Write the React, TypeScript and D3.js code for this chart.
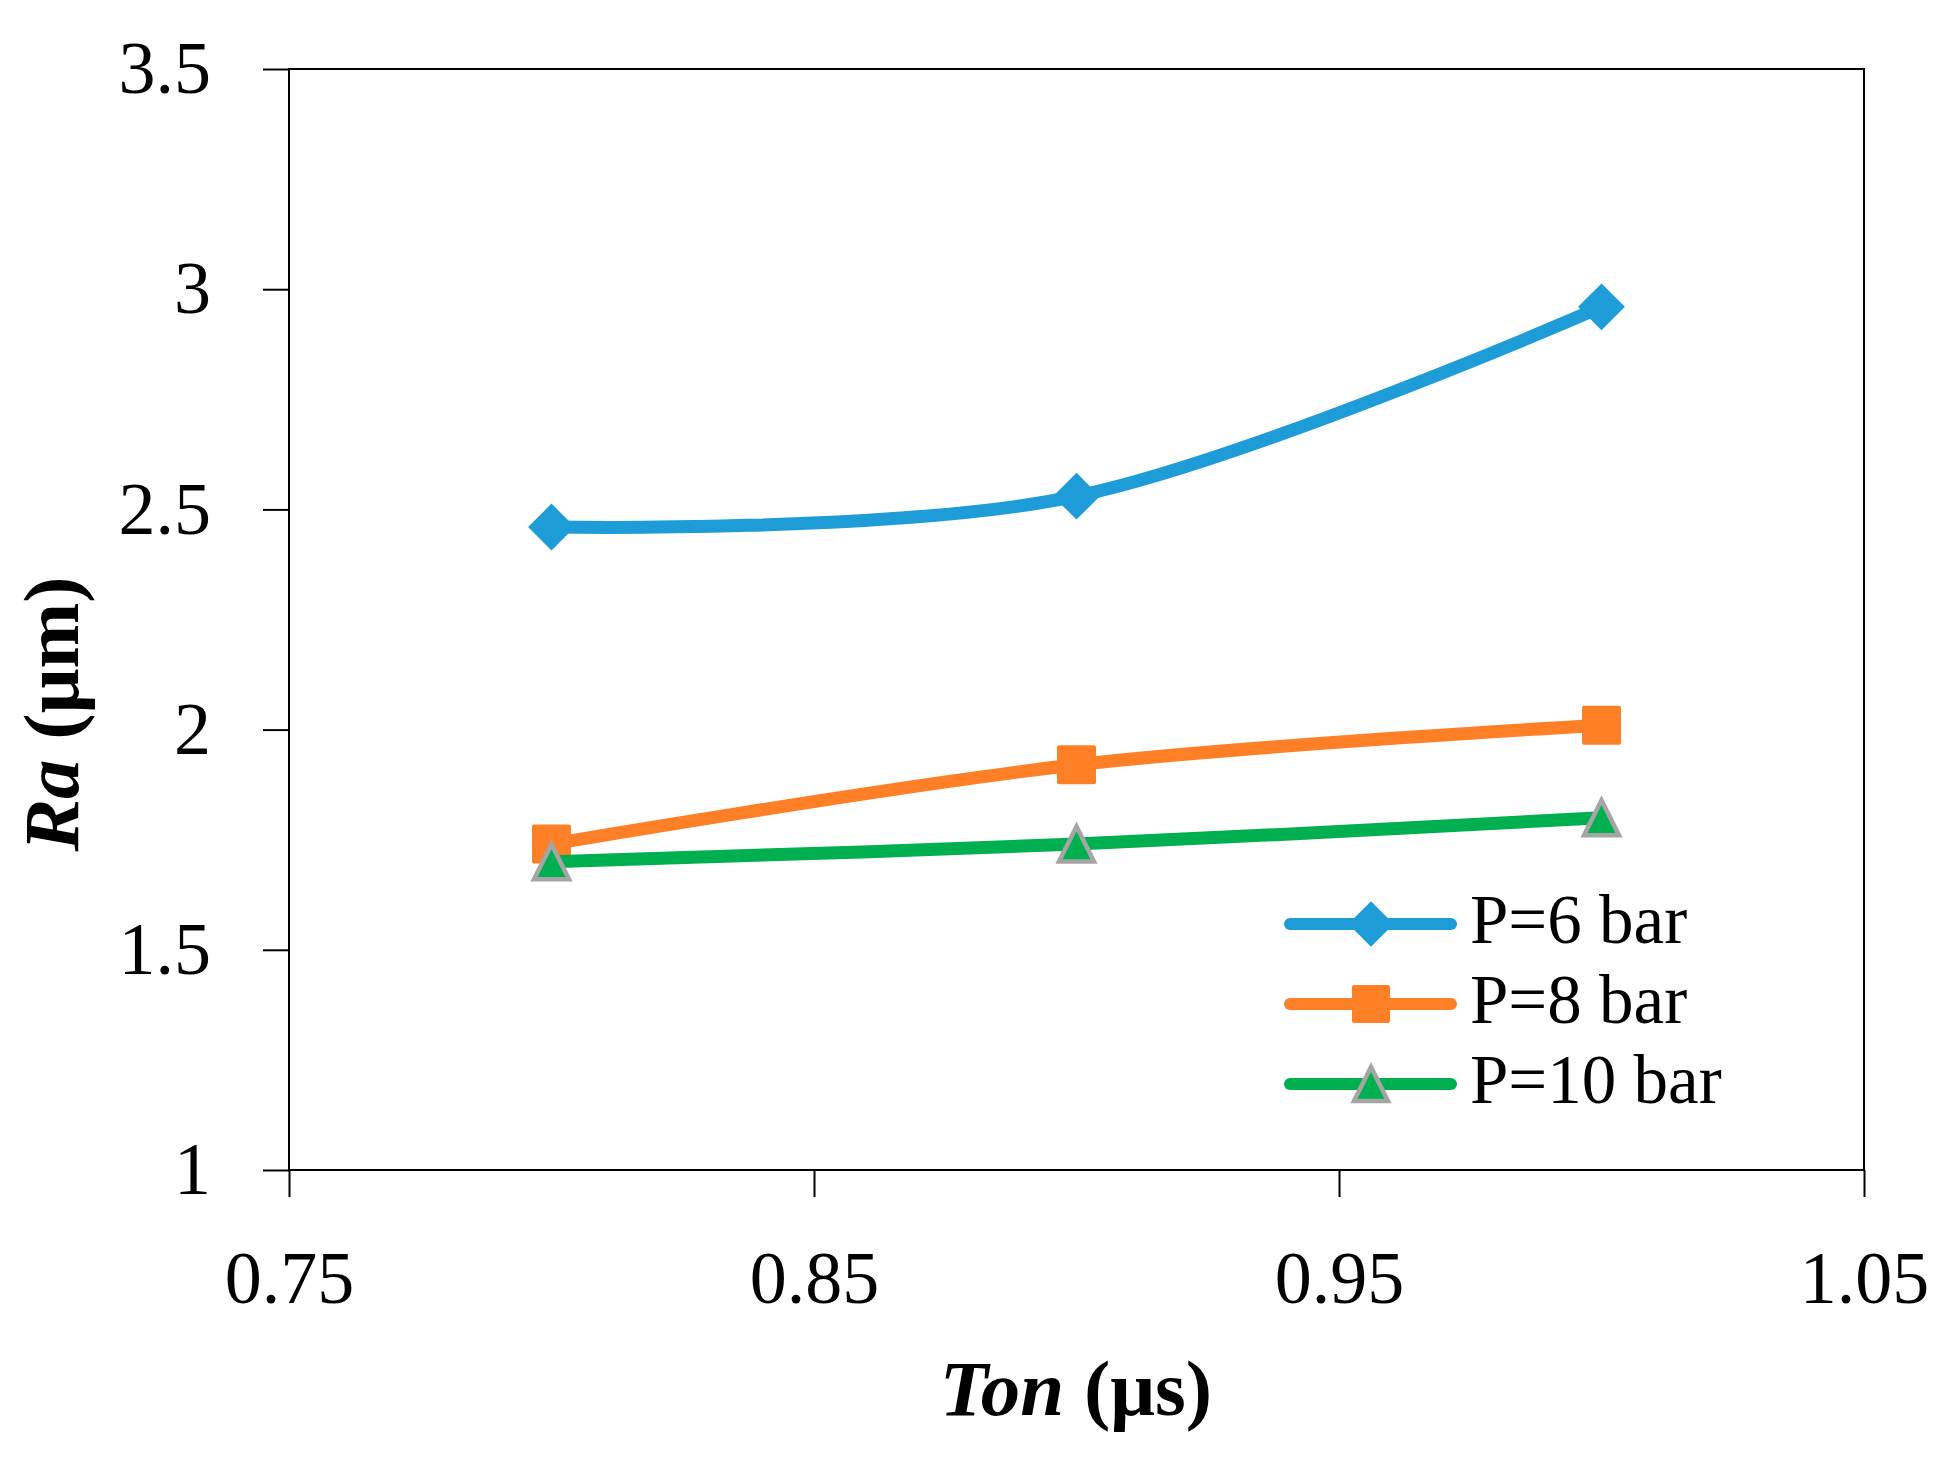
import { useEffect, useRef } from 'react';
import * as d3 from 'd3';

// values
const tonValues = [0.8, 0.9, 1.0];
const raP6 = [2.46, 2.53, 2.96];
const raP8 = [1.74, 1.92, 2.01];
const raP10 = [1.70, 1.74, 1.80];
const seriesNames = ['P=6 bar', 'P=8 bar', 'P=10 bar'];
const xTicks = [0.75, 0.85, 0.95, 1.05];
const xTickLabels = ['0.75', '0.85', '0.95', '1.05'];
const yTicks = [1, 1.5, 2, 2.5, 3, 3.5];
const yTickLabels = ['1', '1.5', '2', '2.5', '3', '3.5'];

const W = 1945;
const H = 1460;

type Marker = 'diamond' | 'square' | 'triangle';

export default function App() {
    const svgRef = useRef<SVGSVGElement>(null);

    useEffect(() => {
        if (!svgRef.current) return;
        const svg = d3.select(svgRef.current);
        svg.selectAll('*').remove();

        const margin = { left: 289, right: W - 1864, top: 69, bottom: H - 1170 };
        const x = d3.scaleLinear().domain([0.75, 1.05]).range([margin.left, W - margin.right]);
        const y = d3.scaleLinear().domain([1, 3.5]).range([H - margin.bottom, margin.top]);

        const font = "'Liberation Serif', 'Times New Roman', serif";

        // cadre du graphique
        svg.append('rect')
            .attr('x', x(0.75))
            .attr('y', y(3.5))
            .attr('width', x(1.05) - x(0.75))
            .attr('height', y(1) - y(3.5))
            .attr('fill', 'none')
            .attr('stroke', '#000')
            .attr('stroke-width', 2);

        // axes
        const yAxis = svg.append('g')
            .attr('transform', `translate(${x(0.75)},0)`)
            .call(d3.axisLeft(y).tickValues(yTicks)
                .tickFormat((_d, i) => yTickLabels[i])
                .tickSize(26).tickPadding(52));
        yAxis.select('.domain').remove();
        yAxis.selectAll('line').attr('stroke', '#000').attr('stroke-width', 2);
        yAxis.selectAll('text')
            .attr('fill', '#000')
            .style('font-family', font)
            .style('font-size', '74px');

        const xAxis = svg.append('g')
            .attr('transform', `translate(0,${y(1)})`)
            .call(d3.axisBottom(x).tickValues(xTicks)
                .tickFormat((_d, i) => xTickLabels[i])
                .tickSize(27).tickPadding(53));
        xAxis.select('.domain').remove();
        xAxis.selectAll('line').attr('stroke', '#000').attr('stroke-width', 2);
        xAxis.selectAll('text')
            .attr('fill', '#000')
            .style('font-family', font)
            .style('font-size', '74px');

        // titres des axes
        const yTitle = svg.append('text')
            .attr('transform', `translate(78,714) rotate(-90)`)
            .attr('text-anchor', 'middle')
            .style('font-family', font)
            .style('font-size', '79px')
            .style('font-weight', 'bold');
        yTitle.append('tspan').style('font-style', 'italic').text('Ra');
        yTitle.append('tspan').text(' (μm)');

        const xTitle = svg.append('text')
            .attr('x', 1076)
            .attr('y', 1415)
            .attr('text-anchor', 'middle')
            .style('font-family', font)
            .style('font-size', '79px')
            .style('font-weight', 'bold');
        xTitle.append('tspan').style('font-style', 'italic').text('Ton');
        xTitle.append('tspan').text(' (μs)');

        const series = [
            { name: seriesNames[0], values: raP6, color: '#1E9CD7', marker: 'diamond' as Marker },
            { name: seriesNames[1], values: raP8, color: '#FF7F27', marker: 'square' as Marker },
            { name: seriesNames[2], values: raP10, color: '#00B050', marker: 'triangle' as Marker },
        ];

        const drawMarker = (g: d3.Selection<SVGGElement, unknown, null, undefined>,
            cx: number, cy: number, kind: Marker, color: string, s: number) => {
            if (kind === 'diamond') {
                const r = s * 0.6;
                g.append('path')
                    .attr('d', `M${cx},${cy - r}L${cx + r},${cy}L${cx},${cy + r}L${cx - r},${cy}Z`)
                    .attr('fill', color);
            } else if (kind === 'square') {
                g.append('rect')
                    .attr('x', cx - s / 2).attr('y', cy - s / 2)
                    .attr('width', s).attr('height', s)
                    .attr('rx', 2)
                    .attr('fill', color);
            } else {
                const hw = s / 2 - 2;
                const hh = s / 2 - 2;
                g.append('path')
                    .attr('d', `M${cx},${cy - hh}L${cx + hw},${cy + hh}L${cx - hw},${cy + hh}Z`)
                    .attr('fill', color)
                    .attr('stroke', '#A5A5A5')
                    .attr('stroke-width', 4.5);
            }
        };

        // courbe lissée
        const line = d3.line<number>()
            .x((_d, i) => x(tonValues[i]))
            .y(d => y(d))
            .curve(d3.curveCardinal.tension(0));

        const plot = svg.append('g');
        series.forEach(s => {
            plot.append('path')
                .datum(s.values)
                .attr('fill', 'none')
                .attr('stroke', s.color)
                .attr('stroke-width', 13)
                .attr('stroke-linejoin', 'round')
                .attr('d', line);
            s.values.forEach((v, i) => {
                drawMarker(plot, x(tonValues[i]), y(v), s.marker, s.color, 39);
            });
        });

        // légende
        const legend = svg.append('g');
        const rowY = [924, 1004, 1084];
        series.forEach((s, i) => {
            legend.append('line')
                .attr('x1', 1290).attr('x2', 1451)
                .attr('y1', rowY[i]).attr('y2', rowY[i])
                .attr('stroke', s.color)
                .attr('stroke-width', 12)
                .attr('stroke-linecap', 'round');
            drawMarker(legend, 1371, rowY[i], s.marker, s.color, 38);
            legend.append('text')
                .attr('x', 1470)
                .attr('y', rowY[i] + 19)
                .style('font-family', font)
                .style('font-size', '69px')
                .attr('fill', '#000')
                .text(s.name);
        });
    }, []);

    return (
        <svg
            ref={svgRef}
            width={W}
            height={H}
            style={{ position: 'absolute', left: 0, top: 0, background: '#fff' }}
        />
    );
}
